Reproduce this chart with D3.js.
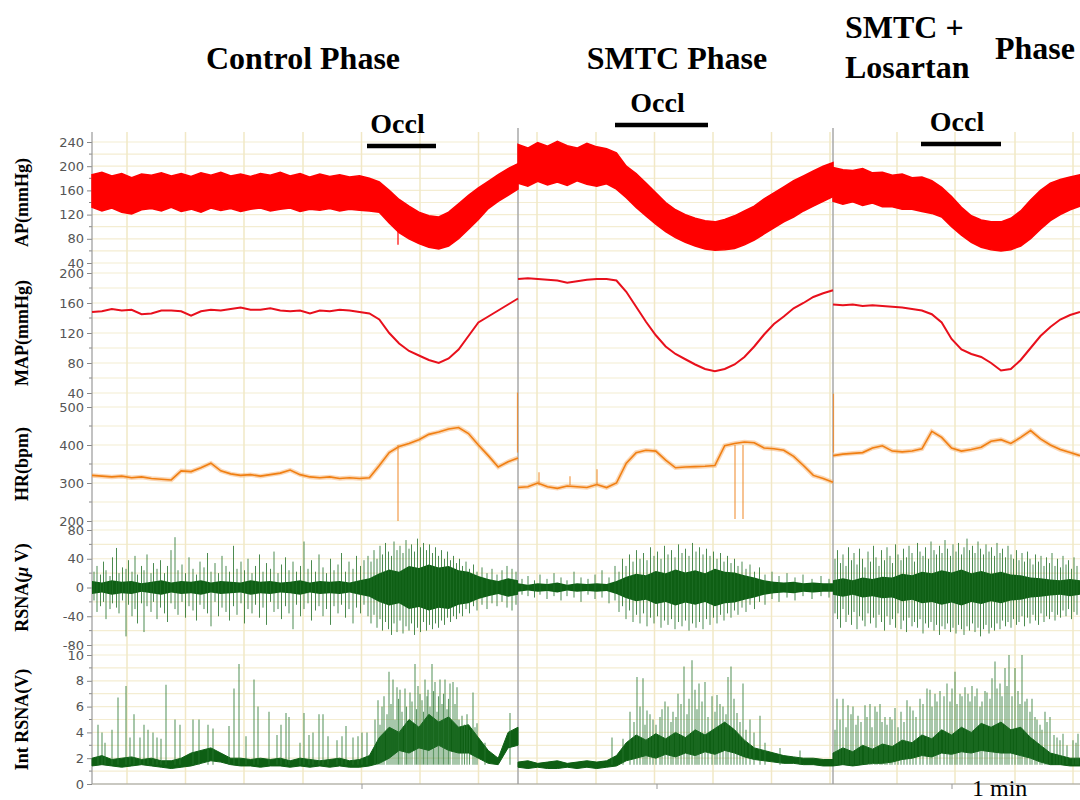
<!DOCTYPE html>
<html>
<head>
<meta charset="utf-8">
<script src="https://cdn.jsdelivr.net/npm/d3@7"></script>
<style>
  body { margin: 0; background: #fff; }
  svg { display: block; }
</style>
</head>
<body>
<div id="chart"></div>
<script>
// ---- data (time in s) ----
const segBounds = [0, 85.2, 148.2, 197.6];          // control | SMTC | SMTC+Losartan
const phaseTitles = ['Control Phase', 'SMTC Phase'];
const occlStart = [55.0, 104.6, 165.8];
const occlEnd   = [68.8, 123.2, 181.8];
const gridTimes = [7, 18.7, 30.4, 42.2, 53.9, 65.6, 77.3, 89.0, 100.8, 112.5, 124.2, 135.9, 147.6, 161.0, 172.6, 184.6, 196.2];
const xTickTimes = [54, 113, 172];

// AP systolic / diastolic envelope (mmHg)
const apSys = [
  [186,190,184,188,181,187,185,189,184,188,183,189,185,190,184,187,183,188,185,190,184,188,182,187,183,186,182,184,180,174,160,145,134,124,118,116,124,138,152,164,175,186,196,204],
  [236,230,239,233,241,234,230,238,232,229,222,200,188,172,156,140,128,120,114,110,108,112,118,126,134,146,156,166,176,184,192,200,206],
  [198,194,193,196,189,190,185,187,181,182,176,165,150,132,118,111,108,108,114,126,144,160,172,178,182,186]
];
const apDia = [
  [132,126,131,124,121,128,130,126,132,125,129,124,131,127,130,125,129,131,126,129,131,125,129,127,130,126,129,127,126,124,106,90,80,72,66,63,68,80,96,112,130,142,152,162],
  [172,167,175,169,174,168,176,170,167,171,162,148,132,118,104,92,82,74,68,63,61,62,64,70,78,88,98,108,116,126,134,142,150],
  [142,137,141,135,139,133,133,129,129,125,122,116,100,86,74,66,62,60,62,68,80,96,110,120,128,134]
];
const apSpikeT = [61.2];
const apSpikeV = [70];

// MAP (mmHg)
const mapVals = [
  [148,149,152,150,151,145,146,150,150,149,143,149,151,150,152,154,151,151,153,150,149,150,146,150,149,151,150,148,146,138,120,106,96,90,84,80,86,98,116,134,142,150,158,166],
  [192,193,192,191,190,187,189,191,192,192,190,175,155,135,117,102,92,85,78,72,69,72,78,88,102,118,132,142,153,160,168,173,177],
  [158,157,158,156,157,156,155,154,152,150,145,134,112,98,92,88,80,70,72,84,100,116,128,138,144,148]
];

// HR (bpm)
const hrVals = [
  [320,318,316,318,314,316,312,310,308,332,330,340,352,332,324,320,322,318,322,326,334,322,316,314,316,312,314,312,314,346,380,396,404,414,428,434,442,446,430,400,372,342,356,366],
  [288,290,300,290,286,292,290,288,296,288,300,352,380,386,384,360,340,342,343,344,346,398,404,408,406,392,390,386,370,346,320,312,302],
  [372,376,378,380,392,398,384,382,384,390,436,420,392,384,388,394,410,414,404,420,438,416,400,388,380,372]
];
const hrSpikeT = [61.2, 85.1, 89.4, 95.6, 101.0, 128.6, 130.2, 148.3];
const hrSpikeV = [200, 538, 328, 318, 336, 205, 205, 535];

// raw RSNA: dense core half-width (µV)
const rsnaCore = [
  [9,7,10,8,9,6,8,10,7,9,8,10,7,9,8,7,10,8,9,7,8,10,7,9,8,9,7,10,13,20,25,22,30,27,32,28,30,24,22,16,12,9,13,10],
  [6,4,6,5,7,4,6,5,6,5,9,15,19,17,23,20,25,21,24,20,26,22,21,17,14,10,8,7,8,6,7,6,6],
  [10,13,10,14,12,15,14,19,17,22,20,24,21,25,20,23,19,22,18,17,14,13,11,10,12,10]
];
// raw RSNA single bursts: time, positive and negative peak (µV)
const rsnaSpikeT = [
  0.4,1.0,1.7,2.3,2.8,3.6,4.1,4.9,5.4,6.1,6.8,7.3,8.0,8.6,9.1,9.9,10.4,11.0,11.8,12.3,13.0,13.7,14.5,15.1,15.8,16.6,17.2,18.0,18.7,19.4,
  20.2,20.9,21.6,22.4,23.1,23.8,24.6,25.3,26.0,26.8,27.5,28.3,29.0,29.8,30.5,31.2,32.0,32.7,33.5,34.2,34.9,35.7,36.4,37.2,37.9,38.7,39.4,40.2,40.9,41.7,
  42.4,43.2,43.9,44.7,45.4,46.2,46.9,47.7,48.4,49.2,49.9,50.7,51.4,52.2,52.9,53.7,54.4,
  55.2,55.8,56.4,57.0,57.6,58.1,58.7,59.3,59.9,60.4,61.0,61.6,62.2,62.8,63.4,63.9,64.5,65.1,65.7,66.3,66.9,67.5,68.1,68.7,69.3,69.9,70.5,71.1,71.7,72.3,
  72.9,73.5,74.1,74.8,75.5,76.3,77.0,78.0,79.0,80.0,81.0,82.0,83.0,84.0,84.8,
  86.0,87.2,88.5,89.6,91.0,92.4,93.8,95.0,96.4,97.8,99.2,100.6,102.0,103.4,104.6,105.4,106.1,106.8,107.5,108.2,108.9,109.6,110.3,111.0,111.7,112.4,113.1,113.8,114.5,115.2,
  115.9,116.6,117.3,118.0,118.7,119.4,120.1,120.8,121.5,122.2,122.9,123.6,124.3,125.0,125.7,126.4,127.1,127.8,128.5,129.2,130.0,130.8,131.6,132.5,133.5,134.6,136.0,137.4,139.0,140.6,
  142.2,144.0,145.8,147.4,
  148.6,149.1,149.7,150.2,150.8,151.3,151.9,152.4,153.0,153.5,154.1,154.6,155.2,155.7,156.3,156.8,157.4,157.9,158.5,159.0,159.6,160.1,160.7,161.2,161.8,162.3,162.9,163.4,164.0,164.5,
  165.1,165.6,166.2,166.7,167.3,167.8,168.4,168.9,169.5,170.0,170.6,171.1,171.7,172.2,172.8,173.3,173.9,174.4,175.0,175.5,176.1,176.6,177.2,177.7,178.3,178.8,179.4,179.9,180.5,181.0,
  181.6,182.1,182.7,183.2,183.8,184.3,184.9,185.4,186.0,186.5,187.1,187.6,188.2,188.7,189.3,189.8,190.4,190.9,191.5,192.0,192.6,193.1,193.7,194.2,194.8,195.3,195.9,196.4,197.0];
const rsnaSpikeHi = [
  22,30,18,36,24,16,42,55,20,28,26,38,22,44,18,30,24,46,20,34,26,38,20,30,52,70,24,32,20,42,
  26,18,36,28,48,22,34,20,44,30,22,58,26,36,24,40,20,30,46,22,34,26,50,20,32,42,24,36,22,30,
  64,26,38,22,46,28,20,40,24,32,48,22,36,26,44,30,38,
  44,36,52,40,58,46,62,50,44,64,52,58,48,66,54,60,50,68,56,62,52,60,48,56,44,52,40,50,38,44,
  34,40,30,36,26,32,22,28,20,26,18,24,30,26,22,
  12,16,10,18,12,20,14,10,22,14,12,18,24,14,30,22,40,30,46,36,52,40,48,38,56,44,50,40,58,46,
  52,42,60,48,54,44,62,50,56,46,54,44,50,40,48,36,44,34,40,30,36,26,32,22,28,18,22,16,20,14,
  18,12,16,12,
  40,52,34,46,30,56,38,48,32,54,40,28,50,36,58,42,30,52,38,56,44,34,60,46,38,54,42,58,48,36,
  62,50,44,56,40,64,52,46,58,48,66,54,44,60,50,62,46,56,68,52,58,48,64,54,46,60,50,56,44,62,
  48,54,42,58,46,40,52,38,48,36,50,40,32,46,36,44,30,42,34,48,30,40,28,44,32,38,26,42,30];
const rsnaSpikeLo = [
  -18,-34,-26,-20,-44,-30,-22,-28,-36,-18,-68,-24,-40,-30,-50,-22,-62,-26,-34,-20,-44,-28,-36,-48,-22,-30,-38,-20,-42,-26,
  -32,-46,-24,-30,-36,-54,-20,-40,-28,-34,-46,-26,-38,-22,-50,-30,-36,-24,-42,-28,-52,-20,-34,-30,-44,-26,-36,-58,-24,-40,
  -30,-22,-46,-32,-26,-40,-30,-52,-26,-36,-24,-42,-30,-50,-28,-36,-24,
  -40,-50,-38,-56,-44,-60,-48,-58,-66,-50,-62,-46,-64,-54,-60,-50,-66,-56,-62,-48,-60,-52,-58,-50,-56,-46,-52,-42,-48,-40,
  -44,-36,-40,-30,-36,-26,-32,-24,-30,-22,-26,-20,-28,-32,-24,
  -10,-12,-14,-10,-16,-12,-18,-12,-14,-20,-10,-16,-14,-22,-18,-34,-26,-44,-32,-48,-38,-50,-36,-54,-42,-50,-40,-56,-46,-52,
  -44,-58,-48,-54,-46,-60,-50,-56,-48,-58,-44,-52,-42,-50,-38,-46,-36,-42,-32,-38,-28,-34,-24,-30,-20,-24,-16,-20,-14,-18,
  -12,-16,-12,-14,
  -36,-44,-56,-30,-48,-38,-52,-34,-58,-40,-46,-54,-36,-50,-42,-56,-38,-48,-60,-40,-52,-44,-56,-36,-58,-46,-62,-42,-54,-48,
  -56,-44,-64,-50,-56,-48,-60,-52,-66,-54,-58,-50,-62,-56,-64,-52,-58,-66,-54,-60,-50,-62,-56,-68,-58,-52,-64,-56,-60,-50,
  -58,-46,-54,-48,-56,-44,-52,-48,-40,-54,-42,-50,-38,-46,-52,-36,-48,-40,-44,-34,-46,-38,-42,-32,-40,-30,-44,-34,-38];

// integrated RSNA (V): dense band and bursts
const intLo = [
  [1.4,1.5,1.4,1.3,1.4,1.5,1.4,1.3,1.2,1.3,1.4,1.6,1.8,1.7,1.5,1.4,1.4,1.3,1.4,1.4,1.3,1.4,1.3,1.4,1.3,1.4,1.3,1.3,1.4,1.6,2.0,2.6,2.4,2.8,2.6,3.0,2.6,2.4,2.4,2.0,1.6,1.5,2.8,3.0],
  [1.3,1.2,1.3,1.2,1.2,1.3,1.2,1.3,1.2,1.3,1.4,1.8,2.0,2.2,2.0,2.3,2.1,2.4,2.2,2.5,2.3,2.6,2.4,2.1,1.9,1.8,1.7,1.6,1.6,1.5,1.5,1.4,1.4],
  [1.4,1.5,1.4,1.5,1.6,1.6,1.7,1.9,2.0,2.2,2.1,2.4,2.3,2.5,2.4,2.6,2.5,2.4,2.4,2.2,2.0,1.7,1.5,1.5,1.4,1.4]
];
const intHi = [
  [2.0,2.2,1.9,2.0,2.1,1.9,2.0,1.8,1.8,2.0,2.4,2.6,2.8,2.4,2.0,2.0,1.9,2.0,1.9,2.0,1.8,2.0,1.9,1.8,1.9,2.0,1.8,1.9,2.2,3.6,4.4,4.0,5.0,4.4,5.4,4.8,5.2,4.4,4.6,3.6,2.6,2.0,4.0,4.4],
  [1.7,1.8,1.6,1.7,1.8,1.6,1.7,1.8,1.7,1.8,2.2,3.2,3.8,3.4,3.9,3.5,4.0,3.6,4.2,3.8,4.3,4.8,4.2,3.4,2.8,2.6,2.4,2.2,2.1,2.0,2.0,1.9,1.9],
  [2.4,2.8,2.5,3.0,2.7,3.1,2.9,3.4,3.2,3.8,3.5,4.2,3.8,4.4,4.0,4.7,4.4,4.8,4.2,4.4,3.6,3.0,2.4,2.2,2.0,2.0]
];
const intSpikeT = [1.2,2.0,2.6,4.0,5.2,6.8,7.6,8.4,9.6,10.4,11.2,12.2,13.0,13.8,14.8,16.6,17.6,20.2,21.4,23.2,24.2,27.4,28.4,29.4,30.8,32.4,33.2,35.4,37.0,37.8,
  38.8,39.4,41.6,42.4,43.4,44.2,45.4,46.2,47.2,49.0,50.0,50.8,52.2,53.2,54.0,55.0,57.2,58.0,59.4,60.2,61.0,61.6,62.6,63.6,64.6,65.2,66.0,66.6,67.2,68.0,
  68.6,69.6,70.6,71.6,72.2,73.0,74.0,75.0,76.2,77.0,78.6,83.6,
  56.6,57.6,58.4,59.0,59.8,60.6,61.3,62.0,62.9,63.2,64.0,64.9,65.6,66.3,67.0,67.6,68.3,69.0,69.3,70.0,70.3,71.0,71.3,72.6,73.4,74.5,75.5,76.6,
  104.0,106.2,107.6,109.0,110.2,111.0,112.2,113.6,114.6,115.2,116.2,117.2,118.4,120.0,120.6,121.4,122.6,124.0,125.0,126.2,127.2,127.8,129.0,130.2,131.6,133.6,137.6,141.6,
  108.4,109.6,110.6,111.6,112.8,114.0,115.8,116.8,117.8,119.0,119.4,121.0,122.0,123.2,124.6,125.6,126.8,128.4,129.6,130.8,132.4,134.6,
  149.0,150.2,151.2,152.2,153.2,154.6,155.6,156.6,157.6,158.6,159.6,160.6,163.0,164.2,165.6,167.0,167.6,168.6,169.6,171.0,172.6,173.6,174.6,176.0,177.0,178.0,179.0,180.0,180.6,181.6,
  182.6,183.4,184.6,186.0,187.0,188.0,189.0,190.6,191.6,193.0,194.2,196.2,197.2,
  148.6,149.6,150.8,151.8,152.8,153.8,155.0,156.0,157.0,158.0,159.0,160.0,161.2,161.8,162.4,163.6,164.8,166.2,168.0,169.0,170.4,171.6,172.0,173.0,174.0,175.2,175.6,176.6,177.6,178.6,
  179.6,181.0,182.0,183.0,184.0,185.2,185.6,186.6,187.6,188.6,189.6,190.0,191.0,192.4,193.6,195.0,196.8];
const intSpikeV = [4.6,4.0,3.2,4.2,6.7,7.6,3.6,5.4,3.6,4.6,4.2,4.0,3.6,3.5,7.7,5.0,4.6,5.0,5.0,4.6,4.3,4.5,7.4,9.3,3.7,8.1,6.0,5.6,3.8,4.6,
  5.5,5.2,3.2,5.5,3.8,4.0,5.4,5.4,3.7,3.4,3.7,4.5,3.6,3.7,4.0,4.0,6.5,6.0,8.7,8.1,7.5,7.3,7.4,7.1,9.3,7.6,6.5,8.1,7.3,9.3,
  7.9,8.1,8.1,7.8,7.9,7.5,5.3,5.4,7.1,4.7,3.2,5.5,
  5.0,4.6,6.8,5.4,6.2,5.0,6.6,5.6,6.0,4.8,6.4,5.8,7.0,5.6,6.8,6.0,7.2,5.6,6.8,6.2,7.0,5.8,6.6,6.2,5.0,4.6,4.2,4.4,
  3.6,3.5,5.6,8.3,8.2,5.7,5.0,5.2,6.4,6.0,5.6,7.0,9.1,9.6,7.3,7.8,7.9,6.8,6.9,6.0,8.3,9.1,5.5,7.8,5.0,5.3,2.8,2.6,
  4.8,6.0,4.6,5.4,4.6,5.8,4.8,5.2,6.2,5.4,6.6,5.8,6.4,5.2,5.6,6.2,5.4,6.6,4.8,4.2,4.0,3.2,
  6.6,6.6,6.1,6.0,5.3,6.1,6.2,6.0,6.2,5.2,5.2,5.9,6.5,5.7,6.6,7.4,7.3,7.0,7.2,7.8,8.7,7.0,7.5,7.6,7.4,6.4,7.1,8.2,9.5,7.8,
  9.0,10.0,9.0,10.0,6.6,6.6,5.0,5.6,5.2,3.6,3.9,3.4,3.9,
  4.2,5.0,4.4,5.4,4.6,4.8,5.2,4.4,5.6,4.8,4.6,5.0,4.4,5.6,4.8,6.0,5.2,6.2,6.0,6.4,6.8,6.4,7.4,6.2,6.8,7.0,6.4,6.8,6.0,7.2,
  6.6,7.4,6.8,7.6,6.8,7.2,6.2,6.4,5.6,5.2,4.6,4.2,4.8,3.8,3.4,3.0,3.2];

// ---- layout ----
const W = 1080, H = 800;
const left = 92, right = 1080, plotTop = 132, plotBottom = 784;
const panels = [
  { key: 'ap',   label: 'AP(mmHg)',  domain: [40, 240], range: [263, 142], major: 40, grid: 20 },
  { key: 'map',  label: 'MAP(mmHg)', domain: [40, 200], range: [393, 273], major: 40, grid: 20 },
  { key: 'hr',   label: 'HR(bpm)',   domain: [200, 500], range: [521, 407], major: 100, grid: 50 },
  { key: 'rsna', label: 'RSNA',      domain: [-80, 80], range: [645, 530], major: 40, grid: 20 },
  { key: 'int',  label: 'Int RSNA(V)', domain: [0, 10], range: [784, 655], major: 2, grid: 1 }
];
panels.forEach(p => { p.y = d3.scaleLinear().domain(p.domain).range(p.range); });
const P = Object.fromEntries(panels.map(p => [p.key, p]));

const x = d3.scaleLinear().domain([segBounds[0], segBounds[3]]).range([left, right]);
const segTimes = (k, n) => d3.range(n).map(i => segBounds[k] + i * (segBounds[k + 1] - segBounds[k]) / (n - 1));

const svg = d3.select('#chart').append('svg').attr('width', W).attr('height', H);
const serif = '"Liberation Serif", "Times New Roman", Times, serif';

// grid
const grid = svg.append('g');
panels.forEach(p => {
  const vals = d3.range(p.domain[0], p.domain[1] + 1e-9, p.grid);
  grid.selectAll(null).data(vals).join('line')
    .attr('x1', left).attr('x2', right)
    .attr('y1', d => p.y(d)).attr('y2', d => p.y(d))
    .attr('stroke', '#f4edd2').attr('stroke-width', 1.2);
});
grid.selectAll(null).data(gridTimes).join('line')
  .attr('x1', d => x(d)).attr('x2', d => x(d))
  .attr('y1', plotTop).attr('y2', plotBottom)
  .attr('stroke', '#f1e8c6').attr('stroke-width', 1.5);

// separators between phases
svg.selectAll(null).data(segBounds.slice(1, 3)).join('line')
  .attr('x1', d => x(d)).attr('x2', d => x(d))
  .attr('y1', 128).attr('y2', plotBottom)
  .attr('stroke', '#a8a8a8').attr('stroke-width', 1.5);

// y axes
panels.forEach(p => {
  const ax = d3.axisLeft(p.y)
    .tickValues(d3.range(p.domain[0], p.domain[1] + 1e-9, p.major))
    .tickSize(5).tickPadding(3).tickFormat(d => String(d));
  const g = svg.append('g').attr('transform', `translate(${left},0)`).call(ax);
  g.select('.domain').remove();
  g.selectAll('line').attr('stroke', '#888');
  g.selectAll('text').attr('fill', '#555').style('font-family', '"DejaVu Sans", Verdana, sans-serif').style('font-size', '13px');
  const minor = d3.range(p.domain[0] + p.major / 2, p.domain[1], p.major);
  g.selectAll('.minor').data(minor).join('line').attr('class', 'minor')
    .attr('x1', -3).attr('x2', 0).attr('y1', d => p.y(d)).attr('y2', d => p.y(d))
    .attr('stroke', '#888');
});
svg.append('line').attr('x1', left).attr('x2', left).attr('y1', plotTop).attr('y2', plotBottom)
  .attr('stroke', '#999').attr('stroke-width', 1.2);
// bottom axis
svg.append('line').attr('x1', left).attr('x2', right).attr('y1', plotBottom).attr('y2', plotBottom)
  .attr('stroke', '#999').attr('stroke-width', 1.2);
svg.selectAll(null).data(xTickTimes).join('line')
  .attr('x1', d => x(d)).attr('x2', d => x(d)).attr('y1', plotBottom).attr('y2', plotBottom + 5)
  .attr('stroke', '#999');

// ---- traces ----
const tr = svg.append('g');
const green = '#0e5f14';
for (let k = 0; k < 3; k++) {
  // AP band
  const tAp = segTimes(k, apSys[k].length);
  const apData = tAp.map((t, i) => ({ t, hi: apSys[k][i], lo: apDia[k][i] }));
  tr.append('path').datum(apData)
    .attr('d', d3.area().x(d => x(d.t)).y0(d => P.ap.y(d.lo)).y1(d => P.ap.y(d.hi)))
    .attr('fill', '#ff0000').attr('stroke', '#ff0000').attr('stroke-width', 1.5);

  // MAP
  const tMap = segTimes(k, mapVals[k].length);
  tr.append('path').datum(mapVals[k].map((v, i) => ({ t: tMap[i], v })))
    .attr('d', d3.line().x(d => x(d.t)).y(d => P.map.y(d.v)))
    .attr('fill', 'none').attr('stroke', '#e8101c').attr('stroke-width', 2);

  // HR
  const tHr = segTimes(k, hrVals[k].length);
  const hrData = hrVals[k].map((v, i) => ({ t: tHr[i], v }));
  tr.append('path').datum(hrData)
    .attr('d', d3.line().x(d => x(d.t)).y(d => P.hr.y(d.v)))
    .attr('fill', 'none').attr('stroke', '#f6a65c').attr('stroke-width', 4.5).attr('stroke-opacity', 0.45);
  tr.append('path').datum(hrData)
    .attr('d', d3.line().x(d => x(d.t)).y(d => P.hr.y(d.v)))
    .attr('fill', 'none').attr('stroke', '#f07f12').attr('stroke-width', 1.6);

  // RSNA core
  const tR = segTimes(k, rsnaCore[k].length);
  tr.append('path').datum(rsnaCore[k].map((v, i) => ({ t: tR[i], v })))
    .attr('d', d3.area().x(d => x(d.t)).y0(d => P.rsna.y(-d.v)).y1(d => P.rsna.y(d.v)))
    .attr('fill', green);

  // Int RSNA band
  const tI = segTimes(k, intLo[k].length);
  tr.append('path').datum(intLo[k].map((v, i) => ({ t: tI[i], lo: v, hi: intHi[k][i] })))
    .attr('d', d3.area().x(d => x(d.t)).y0(d => P.int.y(d.lo)).y1(d => P.int.y(d.hi)))
    .attr('fill', green).attr('stroke', green).attr('stroke-width', 1);
}

// spikes
tr.selectAll(null).data(apSpikeT.map((t, i) => ({ t, v: apSpikeV[i] }))).join('line')
  .attr('x1', d => x(d.t)).attr('x2', d => x(d.t)).attr('y1', P.ap.y(110)).attr('y2', d => P.ap.y(d.v))
  .attr('stroke', '#ff0000').attr('stroke-width', 1.2);
tr.selectAll(null).data(hrSpikeT.map((t, i) => ({ t, v: hrSpikeV[i] }))).join('line')
  .attr('x1', d => x(d.t)).attr('x2', d => x(d.t))
  .attr('y1', d => P.hr.y(d.v > 400 ? 380 : d.v < 250 ? 400 : 295)).attr('y2', d => P.hr.y(d.v))
  .attr('stroke', '#f08a2a').attr('stroke-width', 1.2).attr('stroke-opacity', 0.85);
tr.selectAll(null).data(rsnaSpikeT.map((t, i) => ({ t, hi: rsnaSpikeHi[i], lo: rsnaSpikeLo[i] }))).join('line')
  .attr('x1', d => x(d.t)).attr('x2', d => x(d.t))
  .attr('y1', d => P.rsna.y(d.lo)).attr('y2', d => P.rsna.y(d.hi))
  .attr('stroke', '#1f6e26').attr('stroke-width', 1).attr('stroke-opacity', 0.8);
tr.selectAll(null).data(intSpikeT.map((t, i) => ({ t, v: intSpikeV[i] }))).join('line')
  .attr('x1', d => x(d.t)).attr('x2', d => x(d.t))
  .attr('y1', P.int.y(1.5)).attr('y2', d => P.int.y(d.v))
  .attr('stroke', '#2a7731').attr('stroke-width', 1.1).attr('stroke-opacity', 0.75);

// ---- annotations ----
const titleX = [303, 677];
svg.selectAll(null).data(phaseTitles).join('text')
  .attr('x', (d, i) => titleX[i]).attr('y', 69).attr('text-anchor', 'middle')
  .style('font-family', serif).style('font-weight', 'bold').style('font-size', '32px')
  .text(d => d);
svg.append('text').attr('x', 845).attr('y', 38)
  .style('font-family', serif).style('font-weight', 'bold').style('font-size', '32px').text('SMTC +');
svg.append('text').attr('x', 845).attr('y', 78)
  .style('font-family', serif).style('font-weight', 'bold').style('font-size', '32px').text('Losartan');
svg.append('text').attr('x', 995).attr('y', 59)
  .style('font-family', serif).style('font-weight', 'bold').style('font-size', '32px').text('Phase');

const occlBarY = [146, 125, 144];
occlStart.forEach((s, i) => {
  svg.append('line').attr('x1', x(s)).attr('x2', x(occlEnd[i]))
    .attr('y1', occlBarY[i]).attr('y2', occlBarY[i])
    .attr('stroke', '#000').attr('stroke-width', 4.5);
  svg.append('text').attr('x', (x(s) + x(occlEnd[i])) / 2 - 4).attr('y', occlBarY[i] - 13)
    .attr('text-anchor', 'middle')
    .style('font-family', serif).style('font-weight', 'bold').style('font-size', '28px').text('Occl');
});

// y labels
panels.forEach(p => {
  const cy = (p.range[0] + p.range[1]) / 2;
  const t = svg.append('text').attr('transform', `translate(28,${cy}) rotate(-90)`)
    .attr('text-anchor', 'middle')
    .style('font-family', serif).style('font-weight', 'bold').style('font-size', '18px');
  if (p.key === 'rsna') {
    t.append('tspan').text('RSNA(');
    t.append('tspan').style('font-style', 'italic').text('μ');
    t.append('tspan').text(' V)');
  } else {
    t.text(p.label);
  }
});

svg.append('text').attr('x', 972).attr('y', 796)
  .style('font-family', serif).style('font-size', '24px').text('1 min');
</script>
</body>
</html>
